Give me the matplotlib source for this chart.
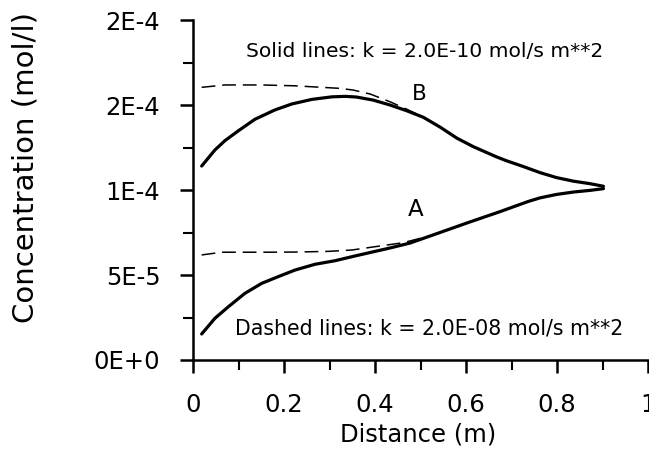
import matplotlib
matplotlib.use("Agg")
from matplotlib import pyplot as plt
from matplotlib.ticker import MultipleLocator, FixedLocator

# curve B, solid (k = 2.0E-10)
b_solid_x = [0.019, 0.048, 0.070, 0.100, 0.136, 0.180, 0.217, 0.261, 0.305, 0.335, 0.359, 0.396, 0.433,
             0.470, 0.506, 0.543, 0.580, 0.616, 0.667, 0.689, 0.726, 0.763, 0.799, 0.836, 0.873, 0.902]
b_solid_y = [1.141e-4, 1.235e-4, 1.290e-4, 1.349e-4, 1.416e-4, 1.471e-4, 1.506e-4, 1.533e-4, 1.548e-4,
             1.551e-4, 1.547e-4, 1.529e-4, 1.500e-4, 1.466e-4, 1.428e-4, 1.370e-4, 1.305e-4, 1.255e-4,
             1.195e-4, 1.172e-4, 1.138e-4, 1.102e-4, 1.073e-4, 1.052e-4, 1.037e-4, 1.022e-4]

# curve B, dashed (k = 2.0E-08)
b_dash_x = [0.019, 0.070, 0.151, 0.224, 0.283, 0.323, 0.352, 0.389, 0.433, 0.470, 0.506, 0.543, 0.580,
            0.616, 0.667, 0.689, 0.726, 0.763, 0.799, 0.836, 0.873, 0.902]
b_dash_y = [1.604e-4, 1.618e-4, 1.618e-4, 1.613e-4, 1.604e-4, 1.598e-4, 1.588e-4, 1.565e-4, 1.519e-4,
            1.475e-4, 1.428e-4, 1.370e-4, 1.305e-4, 1.255e-4, 1.195e-4, 1.172e-4, 1.138e-4, 1.102e-4,
            1.073e-4, 1.052e-4, 1.037e-4, 1.022e-4]

# curve A, solid
a_solid_x = [0.019, 0.048, 0.078, 0.114, 0.151, 0.187, 0.224, 0.268, 0.312, 0.356, 0.433, 0.477, 0.527,
             0.602, 0.675, 0.736, 0.763, 0.799, 0.836, 0.873, 0.902]
a_solid_y = [0.153e-4, 0.245e-4, 0.314e-4, 0.392e-4, 0.451e-4, 0.490e-4, 0.529e-4, 0.563e-4, 0.584e-4,
             0.612e-4, 0.659e-4, 0.688e-4, 0.735e-4, 0.806e-4, 0.873e-4, 0.932e-4, 0.954e-4, 0.974e-4,
             0.988e-4, 0.998e-4, 1.008e-4]

# curve A, dashed
a_dash_x = [0.019, 0.063, 0.151, 0.224, 0.297, 0.349, 0.396, 0.462, 0.527, 0.602, 0.675, 0.736, 0.763,
            0.799, 0.836, 0.873, 0.902]
a_dash_y = [0.618e-4, 0.634e-4, 0.634e-4, 0.635e-4, 0.639e-4, 0.647e-4, 0.665e-4, 0.690e-4, 0.735e-4,
            0.806e-4, 0.873e-4, 0.932e-4, 0.954e-4, 0.974e-4, 0.988e-4, 0.998e-4, 1.008e-4]

y_ticks = [0, 5e-5, 1e-4, 1.5e-4, 2e-4]
y_tick_labels = ["0E+0", "5E-5", "1E-4", "2E-4", "2E-4"]
x_ticks = [0, 0.2, 0.4, 0.6, 0.8, 1.0]
x_tick_labels = ["0", "0.2", "0.4", "0.6", "0.8", "1"]

fig = plt.figure(figsize=(6.49, 4.53), dpi=100)
ax = fig.add_axes([0.2974, 0.2053, 0.7011, 0.7505])

ax.plot(b_solid_x, b_solid_y, color="black", lw=2.3, solid_capstyle="round", solid_joinstyle="round")
ax.plot(a_solid_x, a_solid_y, color="black", lw=2.3, solid_capstyle="round", solid_joinstyle="round")
ax.plot(b_dash_x, b_dash_y, color="black", lw=1.1, dashes=(9, 4.5))
ax.plot(a_dash_x, a_dash_y, color="black", lw=1.1, dashes=(9, 4.5))

ax.set_xlim(0, 1)
ax.set_ylim(0, 2e-4)

ax.spines["top"].set_visible(False)
ax.spines["right"].set_visible(False)
ax.spines["left"].set_linewidth(1.8)
ax.spines["bottom"].set_linewidth(1.8)

ax.xaxis.set_major_locator(FixedLocator(x_ticks))
ax.set_xticklabels(x_tick_labels)
ax.xaxis.set_minor_locator(MultipleLocator(0.1))
ax.yaxis.set_major_locator(FixedLocator(y_ticks))
ax.set_yticklabels(y_tick_labels)
ax.yaxis.set_minor_locator(MultipleLocator(2.5e-5))

ax.tick_params(which="major", length=9.5, width=1.8, direction="out", labelsize=17.5, pad=14)
ax.tick_params(which="minor", length=7, width=1.5, direction="out")

fig.text(0.040, 0.630, "Concentration (mol/l)", rotation=90, ha="center", va="center", fontsize=21)
fig.text(0.645, 0.040, "Distance (m)", ha="center", va="center", fontsize=17.5)

ax.text(0.508, 1.812e-4, "Solid lines: k = 2.0E-10 mol/s m**2", ha="center", va="center", fontsize=14.6)
ax.text(0.519, 0.188e-4, "Dashed lines: k = 2.0E-08 mol/s m**2", ha="center", va="center", fontsize=14.8)
ax.text(0.497, 1.565e-4, "B", ha="center", va="center", fontsize=15.5)
ax.text(0.490, 0.888e-4, "A", ha="center", va="center", fontsize=16.5)

fig.savefig("out.png", dpi=100)
